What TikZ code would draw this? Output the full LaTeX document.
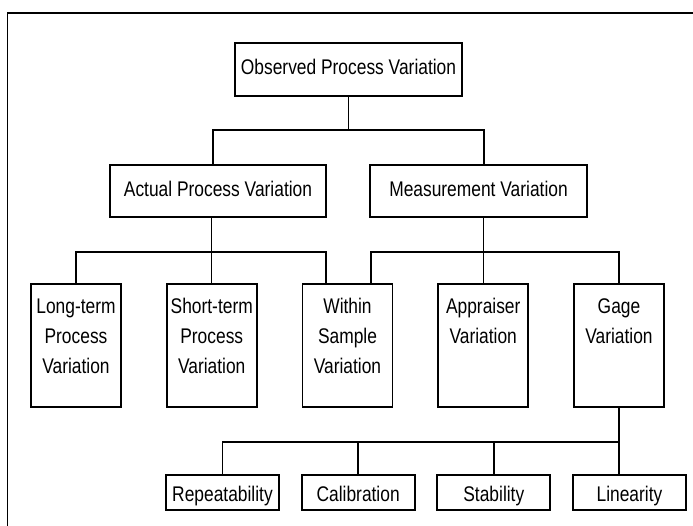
\documentclass[tikz,border=0pt]{standalone}
\usepackage{fontspec}
\setmainfont{Liberation Sans}[FakeStretch=0.82]
\usepackage{tikz}
\usetikzlibrary{positioning,calc}

\newcommand{\stacked}[1]{\parbox[c][61.5pt][t]{45pt}{\centering\rule{0pt}{14.5pt}#1}}

\begin{document}
\begin{tikzpicture}[
    x=0.5pt, y=-0.5pt,
    every node/.style={font=\fontsize{10.6pt}{15pt}\selectfont, inner sep=0pt, outer sep=0pt},
    box/.style={draw, line width=0.9pt, text height=8pt, text depth=3pt},
    topbox/.style={box, minimum width=113.5pt, minimum height=26.5pt},
    lvlbox/.style={box, minimum width=108.25pt, minimum height=26pt},
    midbox/.style={draw, line width=0.9pt, minimum width=45pt, minimum height=61.5pt},
    lowbox/.style={draw, line width=0.9pt, minimum width=56.5pt, minimum height=17.5pt, text height=9pt, text depth=0pt},
    link/.style={draw, line width=0.7pt},
    node distance=22.875pt
]
\useasboundingbox (0,0) rectangle (693,526);
\draw[line width=0.9pt] (693,13) -- (7.5,13) -- (7.5,526);

\node[topbox] (obs) at (348.5,69.5) {Observed Process Variation};
\node[lvlbox] (act) at (218,191) {Actual Process Variation};
\node[lvlbox] (mea) at (478.5,191) {Measurement Variation};

\node[midbox] (lng) at (76,345.5) {\stacked{Long-term\\Process\\Variation}};
\node[midbox, right=of lng] (shr) {\stacked{Short-term\\Process\\Variation}};
\node[midbox, right=of shr] (wth) {\stacked{Within\\Sample\\Variation}};
\node[midbox, right=of wth] (apr) {\stacked{Appraiser\\Variation}};
\node[midbox, right=of apr] (gag) {\stacked{Gage\\Variation}};

\node[lowbox] (rep) at (222.5,492.5) {Repeatability};
\node[lowbox, right=11.33pt of rep] (cal) {Calibration};
\node[lowbox, right=11.33pt of cal] (stb) {Stability};
\node[lowbox, right=11.33pt of stb] (lin) {Linearity};

\coordinate (bus1) at (0,130);
\coordinate (bus2) at (0,252);
\coordinate (bus3) at (0,442);
\coordinate (actL) at ([xshift=-2.5pt]act.north);
\coordinate (meaR) at ([xshift=2.75pt]mea.north);
\coordinate (wthL) at ([xshift=-10.75pt]wth.north);
\coordinate (wthR) at ([xshift=11.75pt]wth.north);

\draw[link] (obs) -- (obs |- bus1) -| (actL);
\draw[link] (obs |- bus1) -| (meaR);

\draw[link] (shr |- act.south) -- (shr);
\draw[link] (lng) |- (wthL |- bus2) -- (wthL);
\draw[link] (apr |- mea.south) -- (apr);
\draw[link] (wthR) |- (gag |- bus2) -- (gag);

\draw[link] (gag) -- (gag |- bus3) -| (rep);
\draw[link] (cal |- bus3) -- (cal);
\draw[link] (stb |- bus3) -- (stb);
\draw[link] (gag |- bus3) -- (gag |- lin.north);
\end{tikzpicture}
\end{document}
